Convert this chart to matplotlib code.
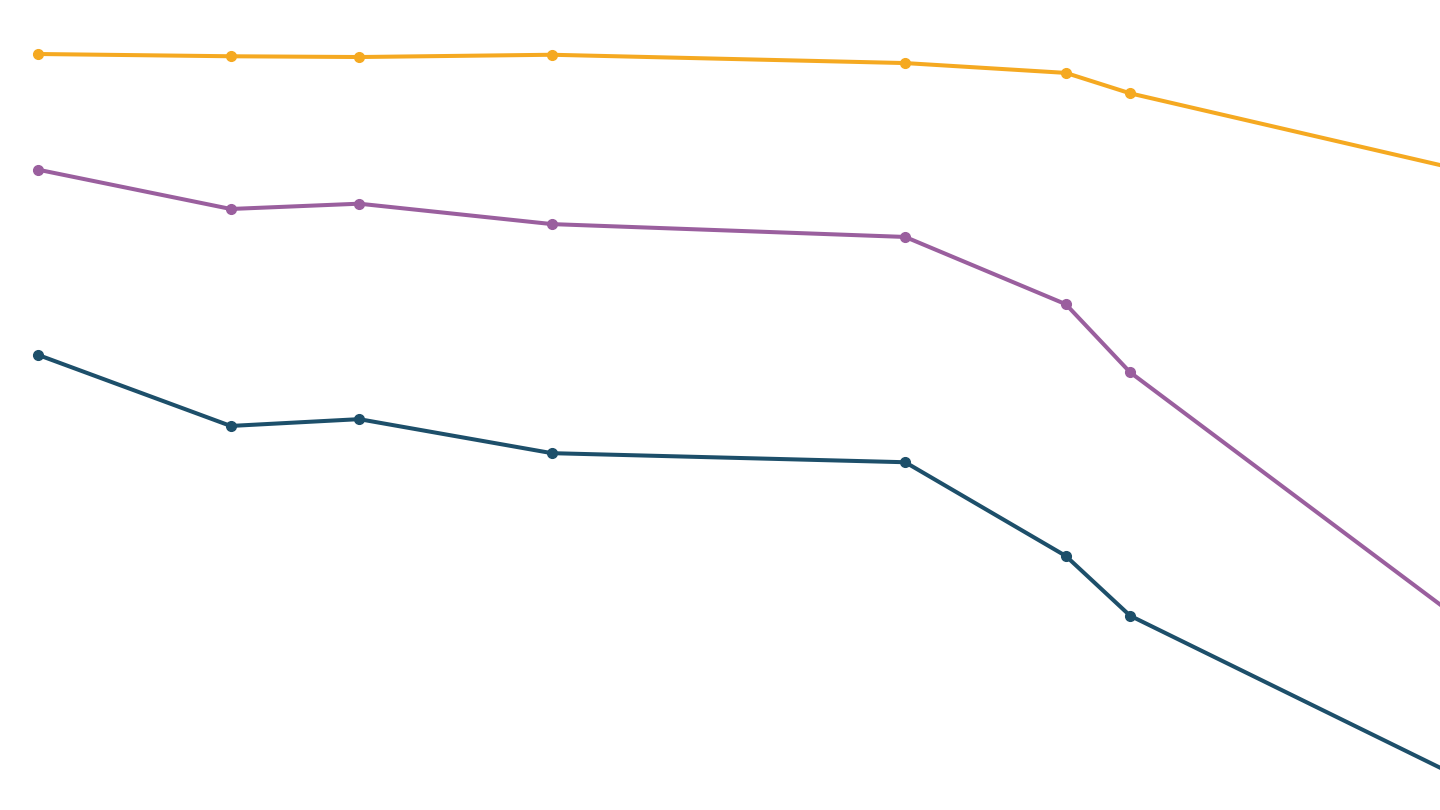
import numpy as np
import matplotlib.pyplot as plt

# time points (arbitrary units) and the three series
t = [0, 6, 10, 16, 27, 32, 34, 46]
top = [100.0, 99.7, 99.6, 99.9, 98.8, 97.5, 94.8, 83.0]
mid = [84.7, 79.5, 80.2, 77.5, 75.8, 66.9, 57.9, 19.7]
low = [60.2, 50.8, 51.7, 47.2, 46.0, 33.6, 25.7, 0.7]

colors = ['#f5a921', '#9a5f9e', '#1d4f6a']

fig = plt.figure(figsize=(14.4, 8.1), dpi=100)
ax = fig.add_axes([0, 0, 1, 1])
for y, c in zip([top, mid, low], colors):
    ax.plot(t[:-1], y[:-1], 'o', color=c, markersize=7, zorder=3)
    ax.plot(t, y, '-', color=c, linewidth=2.9, zorder=2)

ax.set_xlim(-38 / 32.12, 1402 / 32.12)
ax.set_ylim(0, 810 / 7.56)
ax.axis('off')
fig.savefig('out.png', dpi=100, facecolor='white')
